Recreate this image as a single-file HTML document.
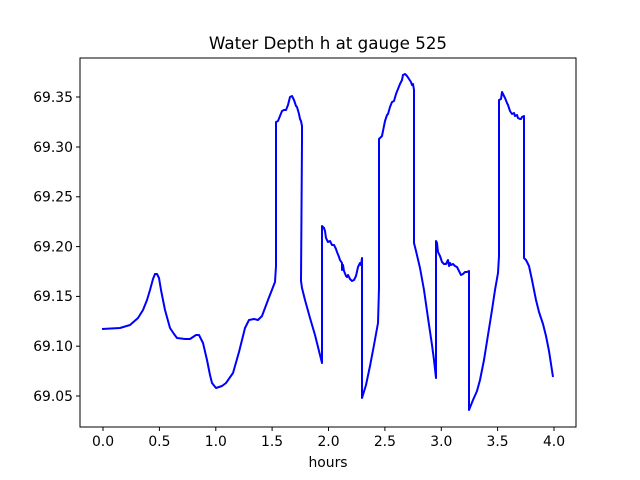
<!DOCTYPE html>
<html><head><meta charset="utf-8"><style>body{margin:0;background:#fff}svg{display:block}</style></head><body>
<svg width="640" height="480" xmlns="http://www.w3.org/2000/svg" font-family="DejaVu Sans, Liberation Sans, sans-serif">
<rect width="640" height="480" fill="#fff"/>
<text x="328" y="49" font-size="16.7" text-anchor="middle">Water Depth h at gauge 525</text>
<polyline fill="none" stroke="#0000ff" stroke-width="2" stroke-linejoin="round" points="102,329 120,328 130,325 138,318 143,310 147,300 150,290 153,279 155,274 157,274 159,278 161,290 165,310 170,328 174,334 177,338 185,339 190,339 196,335 199,335 203,343 207,360 210,375 212,383 216,388 222,386 226,383 233,373 239,352 245,328 249,320 254,319 258,320 262,316 268,300 275,282 276,266 276,122 278,121 280,116 282,111 284,110 286,110 288,105 290,97 292,96 294,100 296,106 297,107 299,114 300,119 301,121 302,126 302,140 301,281 302,288 305,300 310,318 315,335 320,355 322,363 322,226 324,228 325,231 326,238 328,242 330,241 332,245 334,245 336,249 337,252 339,257 340,260 342,263 342,270 343,265 344,271 346,276 347,277 348,275 350,279 352,281 354,280 356,276 358,267 360,263 361,265 362,258 362,398 366,385 370,366 374,345 378,323 379,288 379,139 381,137 382,136 384,126 385,121 387,115 388,114 390,107 392,102 394,101 396,94 398,89 400,84 402,80 403,75 405,74 407,76 409,79 411,82 412,85 413,84 414,90 414,103 414,243 416,251 420,268 424,290 428,318 432,345 434,360 436,378 436,241 437,243 438,252 440,256 442,262 444,264 446,264 448,260 449,266 450,263 451,265 453,264 455,266 457,267 459,271 461,275 463,274 465,272 467,272 469,271 469,410 473,400 477,391 480,380 484,360 488,335 492,310 495,290 498,273 499,256 499,100 501,99 502,92 504,96 505,98 507,103 508,105 510,111 512,114 514,113 515,116 517,115 518,118 520,119 521,119 522,117 524,116 524,258 526,260 529,266 532,280 536,300 539,312 543,324 546,336 549,351 553,377"/>
<rect x="80" y="58" width="496" height="369" fill="none" stroke="#000" stroke-width="1"/>
<g stroke="#000" stroke-width="1">
<line x1="103" y1="427" x2="103" y2="431"/><line x1="159.4" y1="427" x2="159.4" y2="431"/><line x1="215.8" y1="427" x2="215.8" y2="431"/><line x1="272.1" y1="427" x2="272.1" y2="431"/><line x1="328.5" y1="427" x2="328.5" y2="431"/><line x1="384.9" y1="427" x2="384.9" y2="431"/><line x1="441.3" y1="427" x2="441.3" y2="431"/><line x1="497.6" y1="427" x2="497.6" y2="431"/><line x1="554" y1="427" x2="554" y2="431"/>
<line x1="76" y1="396" x2="80" y2="396"/><line x1="76" y1="346.2" x2="80" y2="346.2"/><line x1="76" y1="296.4" x2="80" y2="296.4"/><line x1="76" y1="246.6" x2="80" y2="246.6"/><line x1="76" y1="196.8" x2="80" y2="196.8"/><line x1="76" y1="147" x2="80" y2="147"/><line x1="76" y1="97" x2="80" y2="97"/>
</g>
<g font-size="13.9" text-anchor="middle">
<text x="103" y="446">0.0</text><text x="159.4" y="446">0.5</text><text x="215.8" y="446">1.0</text><text x="272.1" y="446">1.5</text><text x="328.5" y="446">2.0</text><text x="384.9" y="446">2.5</text><text x="441.3" y="446">3.0</text><text x="497.6" y="446">3.5</text><text x="554" y="446">4.0</text>
<text x="328" y="467">hours</text>
</g>
<g font-size="13.9" text-anchor="end">
<text x="73" y="401">69.05</text><text x="73" y="351">69.10</text><text x="73" y="301">69.15</text><text x="73" y="251.5">69.20</text><text x="73" y="201.5">69.25</text><text x="73" y="152">69.30</text><text x="73" y="102">69.35</text>
</g>
</svg>
</body></html>
